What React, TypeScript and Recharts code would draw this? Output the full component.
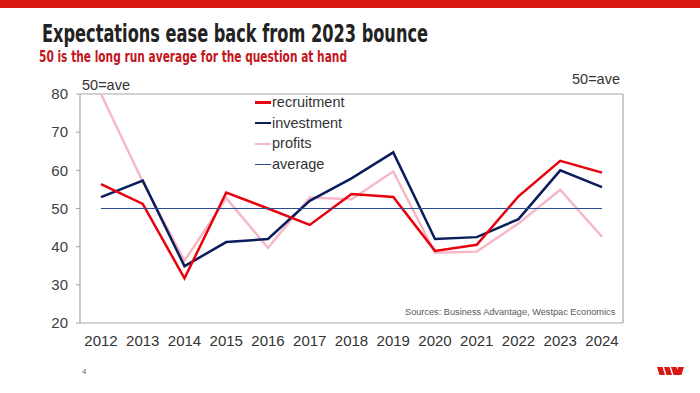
import React from "react";
import {
  LineChart,
  Line,
  XAxis,
  YAxis,
  ReferenceLine,
  Legend,
} from "recharts";

const years = ["2012", "2013", "2014", "2015", "2016", "2017", "2018", "2019", "2020", "2021", "2022", "2023", "2024"];
const recruitment = [56.4, 51.2, 31.7, 54.2, 50.0, 45.7, 53.8, 53.0, 38.9, 40.5, 53.2, 62.5, 59.4];
const investment = [53.0, 57.3, 34.9, 41.2, 42.0, 52.0, 57.9, 64.7, 42.0, 42.5, 47.2, 60.0, 55.6];
const profits = [80.0, 57.0, 36.3, 52.7, 39.7, 52.9, 52.4, 59.7, 38.4, 38.7, 46.1, 54.9, 42.6];
const average = [50, 50, 50, 50, 50, 50, 50, 50, 50, 50, 50, 50, 50];
const yTicks = [20, 30, 40, 50, 60, 70, 80];

const seriesNames = ["recruitment", "investment", "profits", "average"];
const seriesColors = ["#e8000d", "#0a1d5c", "#f7b8c6", "#2d4e8e"];

const data = years.map((y, i) => ({
  year: y,
  recruitment: recruitment[i],
  investment: investment[i],
  profits: profits[i],
  average: average[i],
}));

const FONT = "'Liberation Sans', Arial, sans-serif";

const LegendContent = () => (
  <div style={{ fontFamily: FONT, fontSize: 14.5, color: "#333", lineHeight: "20.7px" }}>
    {seriesNames.map((n, i) => (
      <div key={n} style={{ display: "flex", alignItems: "center", whiteSpace: "nowrap" }}>
        <span
          style={{
            display: "inline-block",
            width: 16,
            height: n === "average" ? 1.5 : 2.5,
            background: seriesColors[i],
            marginRight: 1,
          }}
        />
        <span>{n}</span>
      </div>
    ))}
  </div>
);

export default function App() {
  return (
    <div style={{ position: "absolute", left: 0, top: 0, width: 700, height: 393, background: "#fff", overflow: "hidden" }}>
      <svg width={700} height={393} style={{ position: "absolute", left: 0, top: 0 }}>
        <rect x={0} y={0} width={700} height={8} fill="#da1710" />
        <text
          x={42}
          y={41.5}
          fontFamily="'DejaVu Sans Condensed', 'Liberation Sans Narrow', 'DejaVu Sans', sans-serif"
          fontWeight="bold"
          fontSize={24}
          fill="#222"
          textLength={386}
          lengthAdjust="spacingAndGlyphs"
        >
          Expectations ease back from 2023 bounce
        </text>
        <text
          x={39}
          y={61.5}
          fontFamily="'DejaVu Sans Condensed', 'Liberation Sans Narrow', 'DejaVu Sans', sans-serif"
          fontWeight="bold"
          fontSize={15}
          fill="#c3161c"
          textLength={308}
          lengthAdjust="spacingAndGlyphs"
        >
          50 is the long run average for the question at hand
        </text>
        <text x={82} y={374} fontFamily={FONT} fontSize={8} fill="#666">
          4
        </text>
        <polygon points="657,367 662.5,367 665,375 659.5,375" fill="#da1710" />
        <polygon points="664,367 669.5,367 672,375 666.5,375" fill="#da1710" />
        <polygon points="671,367 676.5,367 679,375 673.5,375" fill="#da1710" />
        <polygon points="678,367 684,367 681.5,375 676,375" fill="#da1710" />
      </svg>
      <div style={{ position: "absolute", left: 0, top: 0 }}>
        <LineChart
          width={700}
          height={393}
          data={data}
          margin={{ top: 94, right: 0, left: 0, bottom: 40 }}
        >
          <XAxis
            dataKey="year"
            padding={{ left: 21, right: 21 }}
            tickLine={false}
            tickSize={0}
            tickMargin={12}
            axisLine={{ stroke: "#a6a6a6", strokeWidth: 1.2 }}
            tick={{ fill: "#333", fontSize: 15, fontFamily: FONT }}
            height={30}
            interval={0}
          />
          <YAxis
            yAxisId="l"
            orientation="left"
            domain={[20, 80]}
            ticks={yTicks}
            width={80}
            tickSize={4}
            tickMargin={8}
            tickLine={{ stroke: "#a6a6a6" }}
            axisLine={{ stroke: "#a6a6a6", strokeWidth: 1.2 }}
            tick={{ fill: "#404040", fontSize: 15, fontFamily: FONT }}
            allowDataOverflow
          />
          <YAxis
            yAxisId="r"
            orientation="right"
            domain={[20, 80]}
            ticks={yTicks}
            width={77}
            tickSize={4}
            tickMargin={8}
            tickLine={{ stroke: "#a6a6a6" }}
            axisLine={{ stroke: "#a6a6a6", strokeWidth: 1.2 }}
            tick={{ fill: "#404040", fontSize: 15, fontFamily: FONT }}
          />
          <ReferenceLine yAxisId="l" y={80} stroke="#a6a6a6" strokeWidth={1.2} />
          <Legend
            layout="vertical"
            verticalAlign="middle"
            align="center"
            wrapperStyle={{ left: 255, top: 92, width: 110 }}
            content={<LegendContent />}
          />
          <Line yAxisId="l" dataKey="profits" stroke={seriesColors[2]} strokeWidth={2.5} dot={false} isAnimationActive={false} />
          <Line yAxisId="l" dataKey="investment" stroke={seriesColors[1]} strokeWidth={2.5} dot={false} isAnimationActive={false} />
          <Line yAxisId="l" dataKey="recruitment" stroke={seriesColors[0]} strokeWidth={2.5} dot={false} isAnimationActive={false} />
          <Line yAxisId="l" dataKey="average" stroke={seriesColors[3]} strokeWidth={1.2} dot={false} isAnimationActive={false} />
        </LineChart>
      </div>
      <div style={{ position: "absolute", left: 82, top: 77, fontFamily: FONT, fontSize: 14.5, color: "#333", whiteSpace: "nowrap" }}>50=ave</div>
      <div style={{ position: "absolute", left: 572, top: 71, fontFamily: FONT, fontSize: 14.5, color: "#333", whiteSpace: "nowrap" }}>50=ave</div>
      <div style={{ position: "absolute", left: 405, top: 307, fontFamily: FONT, fontSize: 9.2, color: "#595959", whiteSpace: "nowrap" }}>
        Sources: Business Advantage, Westpac Economics
      </div>
    </div>
  );
}
